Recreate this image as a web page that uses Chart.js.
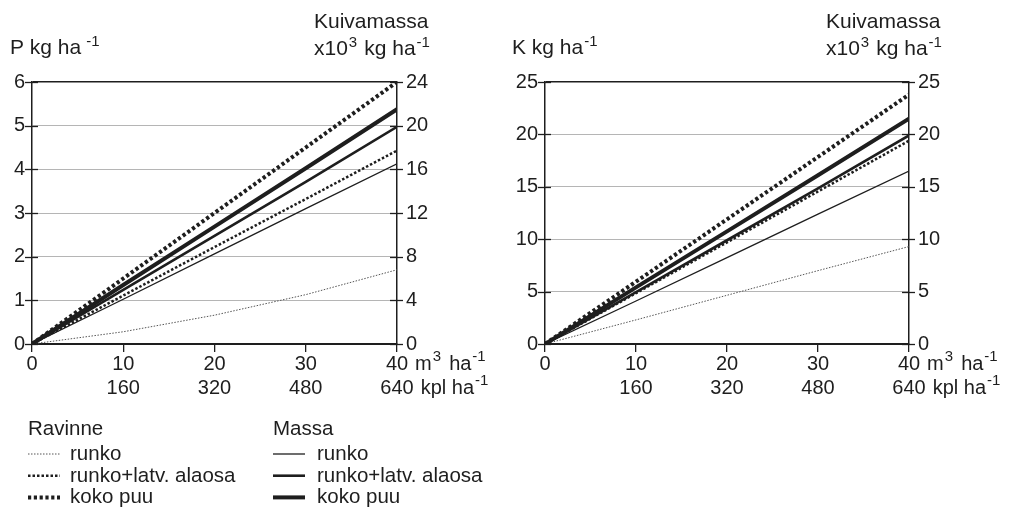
<!DOCTYPE html>
<html>
<head>
<meta charset="utf-8">
<script src="https://cdn.jsdelivr.net/npm/chart.js@4.4.0/dist/chart.umd.min.js"></script>
<style>
  html, body { margin: 0; padding: 0; background: #fff; }
  #wrap { position: relative; width: 1009px; height: 508px; }
  #chartP { position: absolute; left: 0; top: 0; }
  #chartK { position: absolute; left: 505px; top: 0; }
</style>
</head>
<body>
<div id="wrap">
  <canvas id="chartP" width="505" height="508"></canvas>
  <canvas id="chartK" width="504" height="508"></canvas>
</div>
<script>
// x axis: volume m3/ha and stem count kpl/ha
const xValues = [0, 10, 20, 30, 40];
const stemCounts = ["", "160", "320", "480", "640"];

// P kg/ha (Ravinne)
const pRunko = [0, 0.28, 0.66, 1.13, 1.7];
const pRunkoLatva = [0, 1.11, 2.22, 3.32, 4.43];
const pKokoPuu = [0, 1.5, 3.0, 4.5, 6.0];

// K kg/ha (Ravinne)
const kRunko = [0, 2.3, 4.65, 7.0, 9.3];
const kRunkoLatva = [0, 4.85, 9.7, 14.55, 19.4];
const kKokoPuu = [0, 5.95, 11.9, 17.85, 23.8];

// Kuivamassa x1000 kg/ha (Massa)
const massRunko = [0, 4.1, 8.25, 12.4, 16.5];
const massRunkoLatva = [0, 4.95, 9.9, 14.85, 19.9];
const massKokoPuu = [0, 5.4, 10.75, 16.1, 21.5];

const seriesLabels = ["runko", "runko+latv. alaosa", "koko puu"];

const FONT = "'Liberation Sans', Arial, sans-serif";
const INK = "#1e1e1e";

Chart.defaults.font.family = FONT;
Chart.defaults.font.size = 20;
Chart.defaults.color = INK;

const ravStyles = [
  { borderWidth: 1, borderDash: [1.5, 1.5], borderColor: "#555" },
  { borderWidth: 2.5, borderDash: [2.5, 2], borderColor: INK },
  { borderWidth: 4, borderDash: [3.2, 2.6], borderColor: INK },
];
const masStyles = [
  { borderWidth: 1.3, borderDash: [], borderColor: INK },
  { borderWidth: 2.6, borderDash: [], borderColor: INK },
  { borderWidth: 4, borderDash: [], borderColor: INK },
];

function pts(arr) {
  return xValues.map((x, i) => ({ x: x, y: arr[i] }));
}

function buildDatasets(nutrient) {
  const out = [];
  [massRunko, massRunkoLatva, massKokoPuu].forEach((arr, i) => {
    out.push(Object.assign({ label: seriesLabels[i], group: "Massa", data: pts(arr), yAxisID: "y2",
      pointRadius: 0, fill: false, tension: 0 }, masStyles[i]));
  });
  nutrient.forEach((arr, i) => {
    out.push(Object.assign({ label: seriesLabels[i], group: "Ravinne", data: pts(arr), yAxisID: "y",
      pointRadius: 0, fill: false, tension: 0 }, ravStyles[i]));
  });
  return out;
}

// parts: [text, isSup, gapBefore]
function drawRich(ctx, x, y, parts, size, raise) {
  let cx = x;
  for (const [text, sup, gap] of parts) {
    cx += gap || 0;
    ctx.font = (sup ? 15 : size) + "px " + FONT;
    ctx.fillText(text, cx, sup ? y - raise : y);
    cx += ctx.measureText(text).width;
  }
}

const decor = {
  id: "decor",
  afterDraw(chart, args, opts) {
    const ctx = chart.ctx;
    const area = chart.chartArea;
    const xs = chart.scales.x;
    ctx.save();
    ctx.fillStyle = INK;
    ctx.strokeStyle = INK;

    // crossing tick marks on both y axes
    ctx.lineWidth = 1.3;
    for (const id of ["y", "y2"]) {
      const sc = chart.scales[id];
      const ax = id === "y" ? area.left : area.right;
      sc.ticks.forEach(t => {
        const py = Math.round(sc.getPixelForValue(t.value)) + 0.5;
        ctx.beginPath();
        ctx.moveTo(ax - 7, py);
        ctx.lineTo(ax + 6, py);
        ctx.stroke();
      });
    }

    // titles
    ctx.textBaseline = "alphabetic";
    ctx.textAlign = "left";
    drawRich(ctx, opts.titleX, 54, [[opts.letter + " kg ha", 0], ["-1", 1, opts.gap]], 21, 8);
    drawRich(ctx, area.right - 83, 28, [["Kuivamassa", 0]], 21, 8);
    drawRich(ctx, area.right - 83, 55, [["x10", 0], ["3", 1, 1], ["kg ha", 0, 7], ["-1", 1, 1]], 21, 8);

    // unit suffixes after the last x tick
    const p40 = xs.getPixelForValue(40);
    const rowY = xs.top + 8 + 12;
    ctx.textBaseline = "middle";
    ctx.font = "20px " + FONT;
    const w1 = ctx.measureText("40").width;
    const w2 = ctx.measureText(stemCounts[stemCounts.length - 1]).width;
    drawRich(ctx, p40 + w1 / 2 + 7, rowY, [["m", 0], ["3", 1, 1], ["ha", 0, 8], ["-1", 1, 1]], 20, 7);
    drawRich(ctx, p40 + w2 / 2 + 7, rowY + 24, [["kpl ha", 0], ["-1", 1, 1]], 20, 7);

    // legend
    if (opts.legend) {
      ctx.textBaseline = "alphabetic";
      const cols = [
        { group: "Ravinne", x0: 28, x1: 60, tx: 70, hx: 28 },
        { group: "Massa", x0: 273, x1: 305, tx: 317, hx: 273 },
      ];
      cols.forEach(col => {
        ctx.fillStyle = INK;
        ctx.font = "20.5px " + FONT;
        ctx.fillText(col.group, col.hx, 435);
        const sets = chart.data.datasets.filter(d => d.group === col.group);
        sets.forEach((ds, i) => {
          const base = 460 + i * 21.7;
          ctx.save();
          ctx.strokeStyle = ds.borderColor;
          ctx.lineWidth = ds.borderWidth;
          ctx.setLineDash(ds.borderDash || []);
          ctx.beginPath();
          ctx.moveTo(col.x0, base - 6);
          ctx.lineTo(col.x1, base - 6);
          ctx.stroke();
          ctx.restore();
          ctx.fillStyle = INK;
          ctx.font = "20.5px " + FONT;
          ctx.fillText(ds.label, col.tx, base);
        });
      });
    }
    ctx.restore();
  }
};

function makeChart(id, cfg) {
  return new Chart(document.getElementById(id), {
    type: "line",
    data: { datasets: buildDatasets(cfg.nutrient) },
    plugins: [decor],
    options: {
      responsive: false,
      animation: false,
      events: [],
      layout: { padding: { top: 82, right: cfg.padRight, bottom: 108, left: 0 } },
      plugins: {
        legend: { display: false },
        tooltip: { enabled: false },
        decor: { letter: cfg.letter, titleX: cfg.titleX, gap: cfg.gap, legend: cfg.legend },
      },
      scales: {
        x: {
          type: "linear",
          min: 0,
          max: 40,
          afterFit: s => { s.height = 56; },
          ticks: {
            stepSize: 10,
            autoSkip: false,
            maxRotation: 0,
            padding: 0,
            color: INK,
            font: { size: 20, lineHeight: 1.2 },
            callback: v => [String(v), stemCounts[xValues.indexOf(v)] || ""],
          },
          grid: { drawOnChartArea: false, drawTicks: true, tickLength: 8, color: INK, lineWidth: 1.3 },
          border: { color: INK, width: 1.5 },
        },
        y: {
          position: "left",
          min: 0,
          max: cfg.yMax,
          afterFit: s => { s.width = cfg.yWidth; },
          ticks: { stepSize: cfg.yStep, padding: 7, color: INK, font: { size: 20 } },
          grid: {
            drawTicks: false,
            color: c => (c.tick.value === cfg.yMax || c.tick.value === 0) ? INK : "#b5b5b5",
            lineWidth: c => (c.tick.value === cfg.yMax ? 1.6 : 1),
          },
          border: { color: INK, width: 1.5 },
        },
        y2: {
          position: "right",
          min: 0,
          max: cfg.y2Max,
          afterFit: s => { s.width = 40; },
          ticks: { stepSize: cfg.y2Step, padding: 9, color: INK, font: { size: 20 } },
          grid: { drawOnChartArea: false, drawTicks: false },
          border: { color: INK, width: 1.5 },
        },
      },
    },
  });
}

makeChart("chartP", {
  nutrient: [pRunko, pRunkoLatva, pKokoPuu],
  letter: "P", gap: 5, titleX: 10, legend: true,
  yMax: 6, yStep: 1, y2Max: 24, y2Step: 4,
  yWidth: 32, padRight: 68,
});

makeChart("chartK", {
  nutrient: [kRunko, kRunkoLatva, kKokoPuu],
  letter: "K", gap: 1, titleX: 7, legend: false,
  yMax: 25, yStep: 5, y2Max: 25, y2Step: 5,
  yWidth: 40, padRight: 60,
});
</script>
</body>
</html>
